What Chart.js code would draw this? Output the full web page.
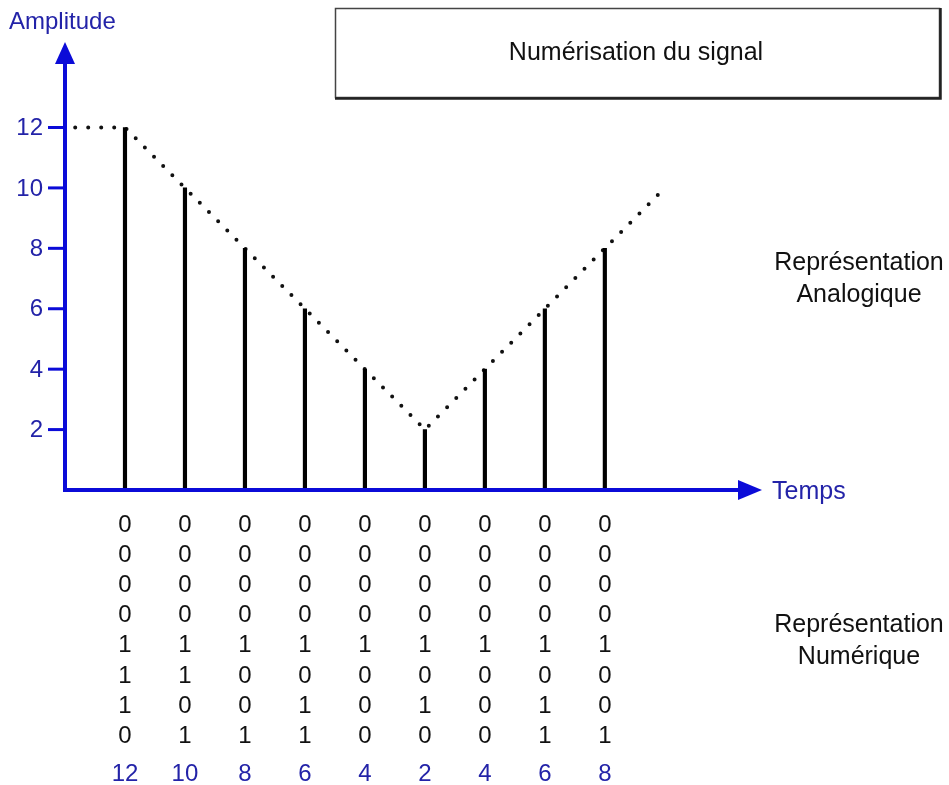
<!DOCTYPE html>
<html>
<head>
<meta charset="utf-8">
<script src="https://cdn.jsdelivr.net/npm/chart.js@4"></script>
<style>
  body { margin: 0; background: #fff; }
  #wrap { width: 949px; height: 785px; position: relative; }
</style>
</head>
<body>
<div id="wrap"><canvas id="numChart"></canvas></div>
<script>
// sample instants (in sampling periods) and the sampled amplitudes
const sampleTimes = [1, 2, 3, 4, 5, 6, 7, 8, 9];
const sampleValues = [12, 10, 8, 6, 4, 2, 4, 6, 8];

// analogue signal (dotted line) corner points
const analogTimes = [0.17, 1, 6, 10];
const analogValues = [12, 12, 2, 10];

// y ticks shown on the amplitude axis
const yTicks = [2, 4, 6, 8, 10, 12];

// binary codes written under each sample, top row first
const bitCodes = [
    "00001110",
    "00001101",
    "00001001",
    "00001011",
    "00001000",
    "00001010",
    "00001000",
    "00001011",
    "00001001",
];
const decimalLabels = ["12", "10", "8", "6", "4", "2", "4", "6", "8"];

const FONT = "'Liberation Sans', Arial, sans-serif";
const AXIS_BLUE = "#0b0bd8";
const TEXT_BLUE = "#2323a8";

const diagramPlugin = {
    id: "diagram",
    afterDatasetsDraw(chart) {
        const ctx = chart.ctx;
        const xs = chart.scales.x;
        const ys = chart.scales.y;
        const x0 = xs.getPixelForValue(0);
        const y0 = ys.getPixelForValue(0);
        const xEnd = xs.getPixelForValue(xs.max);
        const yEnd = ys.getPixelForValue(ys.max);

        ctx.save();

        // axes
        ctx.strokeStyle = AXIS_BLUE;
        ctx.fillStyle = AXIS_BLUE;
        ctx.lineWidth = 4;
        ctx.lineCap = "butt";
        ctx.beginPath();
        ctx.moveTo(x0, y0 + 2);
        ctx.lineTo(x0, yEnd + 18);
        ctx.moveTo(x0 - 2, y0);
        ctx.lineTo(xEnd - 20, y0);
        ctx.stroke();

        // arrow heads
        ctx.beginPath();
        ctx.moveTo(x0, yEnd);
        ctx.lineTo(x0 - 10, yEnd + 22);
        ctx.lineTo(x0 + 10, yEnd + 22);
        ctx.closePath();
        ctx.fill();
        ctx.beginPath();
        ctx.moveTo(xEnd, y0);
        ctx.lineTo(xEnd - 24, y0 - 10);
        ctx.lineTo(xEnd - 24, y0 + 10);
        ctx.closePath();
        ctx.fill();

        // y ticks and labels
        ctx.lineWidth = 3;
        ctx.font = "24px " + FONT;
        ctx.textAlign = "right";
        ctx.textBaseline = "middle";
        yTicks.forEach(v => {
            const py = ys.getPixelForValue(v);
            ctx.beginPath();
            ctx.moveTo(x0 - 17, py);
            ctx.lineTo(x0, py);
            ctx.stroke();
            ctx.fillStyle = TEXT_BLUE;
            ctx.fillText(String(v), x0 - 22, py + 1);
        });

        // axis titles
        ctx.fillStyle = TEXT_BLUE;
        ctx.textAlign = "left";
        ctx.fillText("Amplitude", 9, 22);
        ctx.font = "25px " + FONT;
        ctx.fillText("Temps", xEnd + 10, y0 + 2);

        // binary table
        ctx.textAlign = "center";
        const rowTop = 525;
        const rowStep = 30.2;
        sampleTimes.forEach((t, i) => {
            const px = xs.getPixelForValue(t);
            ctx.font = "24px " + FONT;
            ctx.fillStyle = "#111";
            bitCodes[i].split("").forEach((b, r) => {
                ctx.fillText(b, px, rowTop + r * rowStep);
            });
            ctx.font = "24px " + FONT;
            ctx.fillStyle = TEXT_BLUE;
            ctx.fillText(decimalLabels[i], px, 774);
        });

        // side captions
        ctx.font = "25px " + FONT;
        ctx.fillStyle = "#111";
        ctx.fillText("Représentation", 859, 263);
        ctx.fillText("Analogique", 859, 295);
        ctx.fillText("Représentation", 859, 625);
        ctx.fillText("Numérique", 859, 657);

        // title box
        ctx.strokeStyle = "#444";
        ctx.lineWidth = 1.5;
        ctx.strokeRect(335.5, 8.5, 604, 89);
        ctx.strokeStyle = "#222";
        ctx.lineWidth = 2.5;
        ctx.beginPath();
        ctx.moveTo(335, 98.5);
        ctx.lineTo(940.5, 98.5);
        ctx.lineTo(940.5, 8);
        ctx.stroke();
        ctx.fillStyle = "#111";
        ctx.fillText("Numérisation du signal", 636, 53);

        ctx.restore();
    }
};

new Chart(document.getElementById("numChart"), {
    data: {
        datasets: [
            {
                type: "bar",
                data: sampleTimes.map((t, i) => ({ x: t, y: sampleValues[i] })),
                backgroundColor: "#000",
                barThickness: 3.5,
                borderWidth: 0,
            },
            {
                type: "line",
                data: analogTimes.map((t, i) => ({ x: t, y: analogValues[i] })),
                borderColor: "#111",
                borderWidth: 4,
                borderDash: [0, 13],
                borderCapStyle: "round",
                pointRadius: 0,
                tension: 0,
                fill: false,
            },
        ],
    },
    options: {
        responsive: true,
        maintainAspectRatio: false,
        animation: false,
        layout: { padding: { left: 65, right: 187, top: 42, bottom: 295 } },
        plugins: {
            legend: { display: false },
            tooltip: { enabled: false },
        },
        scales: {
            x: { type: "linear", min: 0, max: 11.62, offset: false, display: false },
            y: { type: "linear", min: 0, max: 14.83, display: false },
        },
    },
    plugins: [diagramPlugin],
});
</script>
</body>
</html>
